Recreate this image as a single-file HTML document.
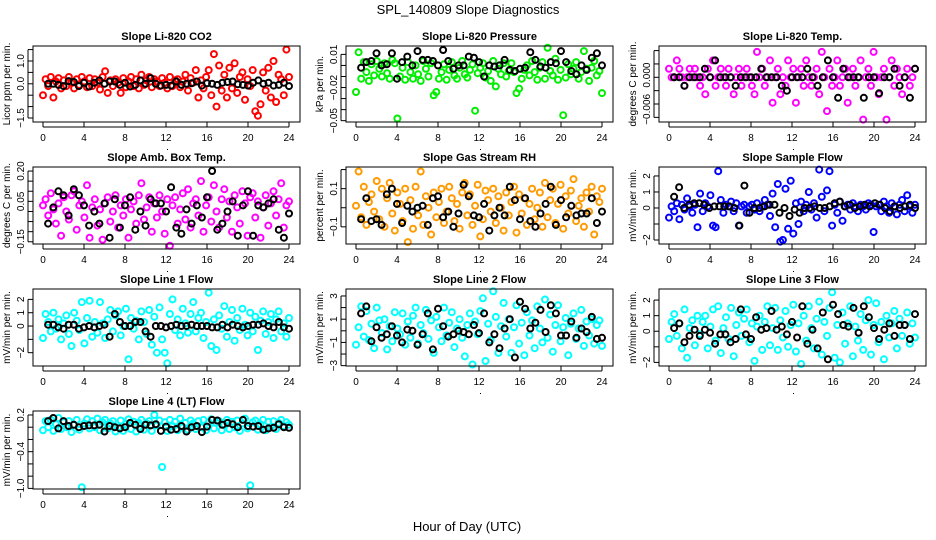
<!DOCTYPE html>
<html><head><meta charset="utf-8"><style>
html,body{margin:0;padding:0;background:#fff;}
svg{display:block;font-family:"Liberation Sans",sans-serif;}
</style></head><body>
<svg id="chart" width="936" height="540" viewBox="0 0 936 540">
<rect width="936" height="540" fill="#fff"/>
<text x="468" y="14" text-anchor="middle" font-size="13">SPL_140809  Slope Diagnostics</text>
<text x="467" y="531" text-anchor="middle" font-size="13">Hour of Day (UTC)</text>
</svg>
<script>
const xTickLabels = ["0","4","8","12","16","20","24"];
const xTickHours = [0,4,8,12,16,20,24];

const co2Colored = [-0.5,0.2,-0.1,0.3,-0.6,0.1,0.25,-0.2,0.15,-0.1,0.3,0.05,-0.2,0.2,-0.05,0.3,0.1,-0.15,0.25,-0.1,0.2,0.05,-0.25,0.3,0.55,-0.4,0.15,-0.1,0.2,0.05,-0.4,0.25,-0.15,0.1,0.3,-0.1,0.2,-0.2,0.4,-0.05,0.15,0.3,-0.15,0.2,0.1,-0.1,0.25,0.05,-0.2,0.3,-0.1,0.15,0.2,-0.15,0.1,0.4,-0.3,0.25,0.05,0.6,-0.6,0.15,-0.2,0.3,0.6,-0.5,1.3,-1.0,0.8,-0.3,0.4,-0.6,0.7,-0.2,0.9,-0.4,0.3,0.5,-0.7,0.2,-0.1,0.6,-1.2,-1.4,-0.9,0.5,-0.3,0.7,-0.6,1.0,-0.8,0.4,0.2,-0.5,1.5,0.3];
const co2Black = [0,0,-0.05,-0.1,0.12,0.08,-0.1,0.05,-0.12,0.05,0.15,0,0.1,0.1,-0.05,0.05,-0.12,-0.05,0.15,0,0.25,0,-0.08,-0.05,-0.08,0.1,-0.05,0,0.02,0.1,-0.08,0.02,0,-0.05,0.05,0.08,0.1,-0.02,-0.05,-0.08,0.05,0.15,0,0.05,-0.08,-0.05,0.05,-0.1];

const pressColored = [-0.024,0.012,-0.012,0.003,-0.006,-0.014,0.001,-0.009,0.004,-0.003,-0.01,0.002,-0.007,-0.012,0.005,0.002,-0.048,-0.01,-0.002,-0.013,0.003,-0.006,-0.012,0.0,-0.008,-0.014,0.004,-0.003,-0.01,0.002,-0.027,-0.024,-0.012,-0.006,0.001,-0.013,-0.004,0.003,-0.009,-0.012,-0.002,0.004,-0.008,-0.011,-0.004,0.001,-0.041,-0.007,-0.002,0.002,-0.011,-0.005,-0.014,0.004,-0.019,-0.003,-0.008,0.002,-0.01,-0.005,0.002,-0.006,-0.025,-0.021,-0.012,-0.004,0.0,-0.009,0.004,-0.006,-0.013,-0.002,0.003,-0.012,0.016,-0.005,-0.009,0.006,-0.013,-0.004,-0.045,-0.011,0.001,-0.008,-0.003,0.003,-0.012,-0.006,0.013,-0.003,-0.014,-0.002,0.004,-0.009,-0.005,-0.025];
const pressBlack = [-0.002,0.003,0.004,0.011,0.0,0.001,0.011,-0.012,0.003,0.008,0.0,0.013,0.005,0.005,0.004,0.0,0.014,0.004,-0.003,0.0,0.0,0.008,0.007,0.003,-0.01,0.0,-0.001,0.0,0.005,-0.004,-0.005,-0.003,-0.002,0.012,0.005,-0.001,-0.002,0.003,0.002,0.013,0.003,-0.005,-0.008,0.0,-0.004,0.007,0.011,0.0];

const tempColored = [0.0019,0,0,0.0038,0.0019,0,-0.0019,0,0.0019,0,0.0019,0,-0.0019,0,-0.0038,0.0019,0,0.0038,-0.0019,0,0.0019,0,-0.0019,0.0019,0,-0.0038,0,0.0019,-0.0019,0,0.0019,0,-0.0019,-0.0038,0.0057,0,0.0019,-0.0019,0,0.0038,-0.0057,0,0.0019,-0.0038,0,-0.0019,0.0038,0,0.0019,-0.0057,0,0.0019,-0.0019,0.0038,0,-0.0019,0,0.0019,-0.0038,0.0057,0,-0.0076,0.0019,-0.0019,0,0.0038,-0.0019,0,0.0019,-0.0057,0,0.0019,-0.0019,0,0.0038,-0.0095,0,0.0019,-0.0019,0.0057,0,-0.0038,0,0.0019,-0.0095,0,0.0038,-0.0019,0.0019,0,-0.0038,0,0.0019,-0.0019,0,0.0019];
const tempBlack = [0,0,-0.0019,0,0,0,0.0019,0,0.0038,0,0,0,-0.0019,0,0,0,0,0.0019,0,0,0,-0.0019,-0.003,0,0,0,0.0019,0,-0.0019,0,0.0038,0,-0.0046,0.0019,0,0,0,-0.0046,0,0,-0.0036,0,0,0.0019,-0.0019,0,-0.0046,0.0019];

const ambColored = [0.03,0.06,-0.02,0.09,0.01,-0.06,0.04,-0.12,0.07,0.0,-0.04,0.08,0.1,-0.09,0.03,0.05,-0.03,0.13,-0.13,0.02,0.06,-0.07,0.01,-0.14,0.04,0.07,-0.05,0.0,0.08,-0.08,0.03,-0.02,0.06,-0.13,0.01,0.05,-0.06,0.08,0.14,-0.04,0.02,0.07,-0.1,0.04,-0.03,0.08,0.0,-0.11,0.06,-0.17,0.03,0.07,-0.06,0.01,0.09,-0.04,0.11,-0.08,0.04,0.06,-0.02,0.15,-0.1,0.03,0.07,-0.05,0.13,0.0,-0.08,0.06,0.11,-0.03,0.05,-0.1,0.08,0.02,-0.06,0.1,0.04,-0.12,0.07,0.09,-0.03,0.05,-0.13,0.02,0.08,-0.07,0.04,0.1,-0.02,0.06,0.14,-0.08,0.03,0.05];
const ambBlack = [-0.06,0.02,0.1,0.08,-0.02,0.11,0.08,0.03,-0.07,0.0,-0.06,0.04,-0.13,0.06,-0.08,0.03,0.07,-0.09,0.0,-0.07,0.06,0.04,0.04,0.0,0.12,-0.08,-0.11,0.01,-0.06,0.03,-0.03,0.07,0.2,-0.09,-0.06,0.0,0.05,-0.12,0.03,0.1,-0.12,0.03,0.02,0.04,0.06,-0.09,-0.13,-0.01];

const rhColored = [0.01,0.19,-0.05,0.11,-0.09,0.03,0.07,-0.02,0.14,-0.06,0.1,-0.1,0.05,0.13,-0.03,-0.12,0.08,0.02,-0.07,0.1,-0.18,0.04,-0.11,0.11,-0.04,0.19,-0.09,0.06,0.0,-0.14,0.08,-0.05,0.03,0.1,-0.08,-0.02,0.11,0.05,-0.07,0.02,-0.11,0.08,0.13,-0.04,0.07,-0.09,0.01,0.12,-0.15,-0.06,0.09,0.04,-0.02,0.1,-0.08,0.06,0.0,-0.12,0.08,-0.04,0.03,0.11,-0.13,0.07,-0.03,0.05,-0.09,0.02,0.1,-0.06,0.0,0.08,-0.1,0.13,-0.05,0.04,0.1,-0.08,0.02,0.12,-0.11,0.06,-0.03,0.09,0.15,-0.07,0.01,0.05,-0.1,0.08,-0.02,0.11,-0.14,0.06,0.03,0.1];
const rhBlack = [-0.06,0.05,-0.07,-0.06,-0.09,0.07,0.1,0.02,-0.08,0.01,-0.02,0.0,0.01,-0.09,0.05,0.06,-0.05,-0.02,-0.1,-0.03,0.12,0.06,-0.04,-0.05,0.02,-0.12,-0.04,0.0,-0.04,0.11,0.04,-0.06,0.05,-0.07,-0.1,-0.03,0.02,0.11,-0.09,0.04,-0.05,0.01,-0.04,-0.03,-0.03,0.05,-0.08,-0.02];

const sampleColored = [-0.6,0.1,-0.2,0.3,-0.7,0.2,-0.1,0.6,0.1,-0.3,0.2,-1.2,0.9,-0.2,0.3,0.1,0.8,-1.1,-1.2,2.3,0.5,-0.3,0.2,0.1,0.4,-0.2,0.3,-1.1,0.1,0.2,-0.3,0.1,0.2,-0.1,0.3,-0.2,0.1,0.5,0.2,-0.5,0.9,-1.2,1.5,-2.1,-2.0,1.2,-1.3,1.7,-1.6,0.3,-1.0,0.4,-0.2,0.2,1.0,-0.1,0.3,-0.6,2.4,0.7,-0.2,1.1,2.3,-1.1,0.2,-0.3,0.4,-0.8,0.1,0.2,-0.1,0.3,0.1,-0.2,0.2,0.1,-0.1,0.3,0.2,-1.5,0.1,0.2,-0.2,0.4,0.1,-0.3,0.3,0.1,-0.4,0.2,0.5,-0.2,0.8,0.1,-0.3,0.2];
const sampleBlack = [0.7,1.3,0.0,0.2,0.3,0.3,0.2,0.0,0.1,0.1,0.1,0.1,0.0,-1.1,1.4,-0.3,0.0,0.0,0.1,0.2,0.2,-0.3,0.0,-0.5,-0.1,-0.3,0.0,0.0,0.1,0.0,0.0,0.1,0.3,0.4,0.1,0.2,0.0,0.1,0.2,0.1,0.3,0.2,0.0,-0.2,0.1,0.0,0.1,0.2,0.0];

const line1Colored = [-0.9,0.9,0.3,-0.4,1.0,-0.2,0.5,-1.0,0.2,0.8,-0.6,-1.5,1.0,0.4,-0.3,1.8,-1.3,0.6,1.9,-0.8,0.3,-0.5,1.8,0.2,-0.9,0.5,1.2,-0.4,0.8,1.1,-0.7,0.0,1.3,-2.5,0.6,-0.2,0.4,-1.0,1.1,0.3,-0.6,1.2,-1.4,0.7,-2.0,1.4,-1.0,-2.0,-2.8,0.9,2.0,-0.3,0.5,-0.7,1.3,0.2,-0.5,0.9,1.8,-0.4,0.6,1.0,-0.9,0.3,2.5,-1.5,0.5,-1.8,0.8,-0.2,1.5,-0.8,0.3,1.2,-1.1,0.6,-0.3,1.3,0.1,-0.7,1.0,-0.4,0.7,-1.8,0.4,1.1,-0.6,0.3,0.9,-0.9,0.5,1.1,-0.4,0.2,-0.8,0.6];
const line1Black = [0.1,0.1,-0.1,-0.2,0.1,0.1,-0.2,-0.1,0.0,-0.1,0.0,0.1,-0.8,0.9,0.3,0.0,0.0,0.3,0.3,-0.4,-0.8,0.0,0.0,-0.1,0.0,0.1,0.0,0.0,0.1,0.0,0.0,0.0,-0.1,-0.1,0.1,-0.1,0.1,0.0,-0.1,0.0,0.1,0.1,0.2,0.0,-0.1,0.3,-0.1,-0.2];

const line2Colored = [-1.2,0.3,2.1,-0.5,1.7,-0.8,0.6,-1.5,2.0,0.9,-0.2,1.0,-1.6,0.4,-0.9,1.6,0.2,-0.3,1.5,-1.2,0.8,-0.6,1.3,2.0,-1.1,0.5,-0.2,1.8,-0.7,0.9,-1.9,1.2,0.3,-0.9,2.0,-0.4,0.7,1.6,-1.4,0.2,1.0,-0.6,-2.2,0.5,1.5,-2.9,0.8,-0.3,1.7,2.8,-2.6,0.6,-0.8,3.4,1.2,-1.9,0.4,2.4,-0.5,1.0,-1.9,0.3,2.2,-1.1,0.7,-2.1,1.6,-0.4,0.9,-1.5,2.1,0.2,-1.0,2.7,-0.6,1.4,-1.8,0.5,2.2,-0.9,0.3,1.1,-2.1,0.6,1.5,-0.7,0.2,1.8,-1.3,0.8,-0.4,1.0,-1.1,0.5,0.9,-1.3];
const line2Black = [1.5,2.1,-0.9,0.3,-0.6,-0.3,0.4,-0.4,-1.0,0.1,0.0,-1.2,-0.3,1.5,-1.6,1.9,0.4,-0.5,-0.3,0.0,-0.1,-0.3,0.5,-0.2,1.5,-1.0,-0.3,-1.5,0.2,1.0,-2.3,2.5,1.9,0.2,0.7,1.8,-0.1,2.2,1.5,-0.4,-0.4,0.8,-0.6,0.2,-0.1,1.2,-0.7,-0.6];

const line3Colored = [-0.5,0.6,1.1,-0.3,0.5,-1.1,1.4,-1.7,0.2,0.7,-0.9,1.0,-0.2,0.6,1.0,-1.1,0.3,1.4,-0.6,1.6,-1.4,0.2,0.9,-0.5,1.5,-1.6,0.4,1.2,-0.3,0.8,1.4,-0.7,0.5,-1.9,0.3,1.0,-1.2,0.6,1.6,-0.9,0.2,1.5,-1.2,0.7,-0.4,1.3,-1.0,0.4,1.7,-1.3,0.5,-2.1,1.0,-0.6,1.6,0.2,-1.1,0.8,1.9,-1.5,0.6,-0.3,1.5,2.5,-1.7,0.4,-2.0,1.2,-0.8,0.5,1.6,-1.6,0.3,-0.6,1.1,-1.2,0.7,2.0,-1.5,0.4,1.8,-0.7,0.6,-1.8,1.0,-0.4,0.5,1.3,-1.1,0.8,-0.3,0.4,1.2,-0.8,0.5,-0.4];
const line3Black = [0.2,0.5,-0.7,-0.3,0.1,-0.3,0.1,-0.1,-0.8,-0.2,-0.2,-0.7,-0.5,1.4,-0.2,-0.5,0.9,0.1,0.2,1.3,0.1,0.3,-0.2,0.6,-0.4,1.6,-0.8,0.1,-1.1,1.2,-1.8,1.7,1.1,0.4,0.3,1.5,-0.1,1.6,0.9,0.2,-0.5,0.1,0.5,-0.3,0.4,0.4,-0.5,1.1];

const line4Colored = [-0.05,0.1,0.0,0.12,-0.06,0.05,0.15,-0.03,0.08,0.0,0.1,-0.08,0.04,0.12,-0.04,-0.98,0.06,0.13,-0.02,0.1,0.0,0.14,-0.05,0.08,0.12,-0.02,0.06,0.1,-0.07,0.0,0.11,-0.06,0.05,0.13,-0.03,0.09,-0.07,0.07,0.12,-0.04,0.06,0.1,-0.06,0.2,0.03,0.11,-0.65,0.08,-0.06,0.12,0.02,0.09,-0.05,0.14,0.0,0.07,-0.04,0.11,0.06,-0.03,0.1,0.0,0.12,-0.05,0.08,0.13,-0.02,0.07,0.1,-0.05,0.04,0.12,-0.03,0.09,0.0,0.11,-0.06,0.06,0.14,-0.02,-0.95,0.08,0.11,-0.04,0.05,0.12,-0.05,0.09,0.0,0.1,-0.03,0.07,0.12,0.02,0.08,0.04];
const line4Black = [0.1,0.15,-0.02,0.1,0.02,0.04,0.0,0.02,0.03,0.03,0.04,-0.07,0.02,0.0,-0.02,0.0,0.07,0.04,-0.03,0.04,0.03,0.05,-0.06,0.01,-0.04,-0.03,0.02,-0.07,0.0,0.02,-0.08,0.01,0.12,0.11,0.04,0.07,0.05,0.0,0.12,0.02,0.01,0.02,-0.04,-0.02,-0.01,0.05,0.0,-0.01];

const panels = [
 {id:"co2",title:"Slope Li-820 CO2",ylab:"Licor ppm per min.",col:0,row:0,ylim:[-1.675,1.657],ticks:[-1.5,-1,-0.5,0,0.5,1,1.5],labels:[[-1.5,"\u22121.5"],[0,"0.0"],[1,"1.0"]],color:"#ff0000",c:co2Colored,b:co2Black},
 {id:"pressure",title:"Slope Li-820 Pressure",ylab:"kPa per min.",col:1,row:0,ylim:[-0.0512,0.0176],ticks:[0.01,0,-0.01,-0.02,-0.03,-0.04,-0.05],labels:[[0.01,"0.01"],[-0.02,"\u22120.02"],[-0.05,"\u22120.05"]],color:"#00ee00",c:pressColored,b:pressBlack},
 {id:"temp",title:"Slope Li-820 Temp.",ylab:"degrees C per min.",col:2,row:0,ylim:[-0.01004,0.00703],ticks:[0.006,0.003,0,-0.003,-0.006,-0.009],labels:[[0.0005,"0.000"],[-0.0072,"\u22120.006"]],color:"#ff00ff",c:tempColored,b:tempBlack},
 {id:"amb-box",title:"Slope Amb. Box Temp.",ylab:"degrees C per min.",col:0,row:1,ylim:[-0.161,0.22],ticks:[0.2,0.15,0.1,0.05,0,-0.05,-0.1,-0.15],labels:[[0.2,"0.20"],[0.05,"0.05"],[-0.15,"\u22120.15"]],color:"#ff00ff",c:ambColored,b:ambBlack},
 {id:"gas-rh",title:"Slope Gas Stream RH",ylab:"percent per min.",col:1,row:1,ylim:[-0.19,0.2135],ticks:[0.2,0.1,0,-0.1],labels:[[0.1,"0.1"],[-0.1,"\u22120.1"]],color:"#ff9a00",c:rhColored,b:rhBlack},
 {id:"sample-flow",title:"Slope Sample Flow",ylab:"mV/min per min.",col:2,row:1,ylim:[-2.25,2.56],ticks:[2,1,0,-1,-2],labels:[[2,"2"],[1,"1"],[0,"0"],[-2,"\u22122"]],color:"#0000ff",c:sampleColored,b:sampleBlack},
 {id:"line1-flow",title:"Slope Line 1 Flow",ylab:"mV/min per min.",col:0,row:2,ylim:[-3.0,2.78],ticks:[2,1,0,-1,-2],labels:[[2,"2"],[1,"1"],[0,"0"],[-2,"\u22122"]],color:"#00ffff",c:line1Colored,b:line1Black},
 {id:"line2-flow",title:"Slope Line 2 Flow",ylab:"mV/min per min.",col:1,row:2,ylim:[-3.03,3.6],ticks:[3,2,1,0,-1,-2,-3],labels:[[3,"3"],[1,"1"],[-1,"\u22121"],[-3,"\u22123"]],color:"#00ffff",c:line2Colored,b:line2Black},
 {id:"line3-flow",title:"Slope Line 3 Flow",ylab:"mV/min per min.",col:2,row:2,ylim:[-2.23,2.71],ticks:[2,1,0,-1,-2],labels:[[2,"2"],[1,"1"],[0,"0"],[-2,"\u22122"]],color:"#00ffff",c:line3Colored,b:line3Black},
 {id:"line4-flow",title:"Slope Line 4 (LT) Flow",ylab:"mV/min per min.",col:0,row:3,ylim:[-1.01,0.265],ticks:[0.2,0,-0.2,-0.4,-0.6,-0.8,-1.0],labels:[[0.2,"0.2"],[-0.4,"\u22120.4"],[-1.0,"\u22121.0"]],color:"#00ffff",c:line4Colored,b:line4Black}
];

const NS="http://www.w3.org/2000/svg";
const svg=document.getElementById('chart');
const colLeft=[33,346,659], rowTop=[46,167,289,411], rowBot=[122,244,366,489], boxW=267;
function mk(tag,attrs,parent){const e=document.createElementNS(NS,tag);for(const k in attrs)e.setAttribute(k,attrs[k]);parent.appendChild(e);return e;}

panels.forEach(p=>{
  const L=colLeft[p.col], R=L+boxW, T=rowTop[p.row], B=rowBot[p.row];
  const xs=h=>L+10+h*(246/24);
  const ys=v=>B-(v-p.ylim[0])/(p.ylim[1]-p.ylim[0])*(B-T);
  const g=mk('g',{},svg);
  
  
  const t=mk('text',{x:(L+R)/2,y:T-6,'text-anchor':'middle','font-size':11,'font-weight':'bold'},g);
  t.textContent=p.title;
  
  
  const yl=mk('text',{x:0,y:0,'text-anchor':'middle','font-size':10,transform:`translate(${L-23},${(T+B)/2}) rotate(-90)`},g);
  yl.textContent=p.ylab;
  
  
  const pg=mk('g',{fill:'none','stroke-width':2},g);
  
  
  p.c.forEach((v,i)=>{
    const h=i*24/(p.c.length-1);
    const c=mk('circle',{cx:xs(h).toFixed(1),cy:ys(v).toFixed(1),r:3,stroke:p.color},pg);
    
    
  });
  p.b.forEach((v,i)=>{
    const h=0.5+i*23.5/(p.b.length-1);
    const c=mk('circle',{cx:xs(h).toFixed(1),cy:ys(v).toFixed(1),r:3,stroke:'#000'},pg);
    
    
  });
  const box=mk('rect',{x:L,y:T,width:boxW,height:B-T,fill:'none',stroke:'#000','stroke-width':1},g);
  
  
  xTickHours.forEach((h,i)=>{
    const ln=mk('line',{x1:xs(h),x2:xs(h),y1:B,y2:B+5,stroke:'#000'},g);
    
    
    const tx=mk('text',{x:xs(h),y:B+19,'text-anchor':'middle','font-size':10},g);
    tx.textContent=xTickLabels[i];
    
    
  });
  const axl=mk('line',{x1:xs(0),x2:xs(24),y1:B+5,y2:B+5,stroke:'#000'},g);
  
  
  const dot=mk('rect',{x:xs(12)+1,y:B+27,width:1,height:1,fill:'#000'},g);
  
  
  p.ticks.forEach(v=>{
    const ln=mk('line',{x1:L-5,x2:L,y1:ys(v),y2:ys(v),stroke:'#000'},g);
    
    
  });
  const yal=mk('line',{x1:L-5,x2:L-5,y1:ys(p.ticks[0]),y2:ys(p.ticks[p.ticks.length-1]),stroke:'#000'},g);
  
  
  p.labels.forEach(([v,s])=>{
    const tx=mk('text',{x:0,y:0,'text-anchor':'middle','font-size':10,transform:`translate(${L-9},${ys(v)}) rotate(-90)`},g);
    tx.textContent=s;
    
    
  });
});
</script>
</body></html>
